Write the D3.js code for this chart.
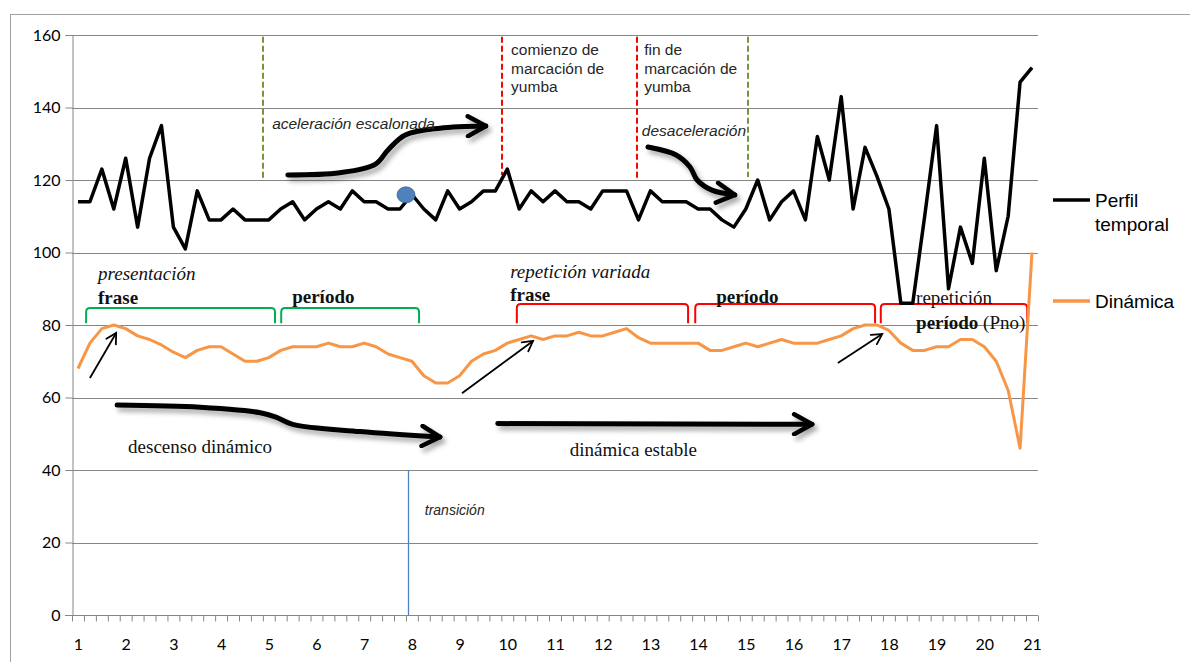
<!DOCTYPE html>
<html><head><meta charset="utf-8">
<script src="https://cdn.jsdelivr.net/npm/d3@7"></script>
<style>body{margin:0;background:#fff} svg{display:block}</style>
</head><body><svg id="c" width="1190" height="662"></svg>
<script>
// ---------- data ----------
const xTickLabels = d3.range(1, 22);                 // 1 .. 21
const yTicks = [0, 20, 40, 60, 80, 100, 120, 140, 160];
const seriesNames = ["Perfil temporal", "Dinámica"];
const perfil = [114,114,123,112,126,107,126,135,107,101,
                117,109,109,112,109,109,109,112,114,109,
                112,114,112,117,114,114,112,112,116,112,
                109,117,112,114,117,117,123,112,117,114,
                117,114,114,112,117,117,117,109,117,114,
                114,114,112,112,109,107,112,120,109,114,
                117,109,132,120,143,112,129,121,112,86,
                86,110,135,90,107,97,126,95,110,147,151];
const dinamica = [68,75,79,80,79,77,76,74.5,72.5,71,
                  73,74,74,72,70,70,71,73,74,74,
                  74,75,74,74,75,74,72,71,70,66,
                  64,64,66,70,72,73,75,76,77,76,
                  77,77,78,77,77,78,79,76.5,75,75,
                  75,75,75,73,73,74,75,74,75,76,
                  75,75,75,76,77,79,80,80,78.5,75,
                  73,73,74,74,76,76,74,70,62,46,100];
const xPos = perfil.map((d, i) => 1 + i / 4);        // 4 samples per labelled unit

// annotations, in data units (x: axis units, y: value units)
const vLines = [
  {x: 4.88,  y0: 120.5, y1: 159.5, color: "#77933C"},
  {x: 9.89,  y0: 121.4, y1: 159.5, color: "#FF0000"},
  {x: 12.72, y0: 120.2, y1: 159.5, color: "#FF0000"},
  {x: 15.05, y0: 120.8, y1: 159.5, color: "#77933C"}
];
const brackets = [
  {x1: 1.17,  x2: 5.13,  top: 84.7, bot: 80.5, color: "#00B050"},
  {x1: 5.26,  x2: 8.15,  top: 84.7, bot: 80.5, color: "#00B050"},
  {x1: 10.2,  x2: 13.79, top: 85.8, bot: 80.5, color: "#FF0000"},
  {x1: 13.94, x2: 17.71, top: 85.8, bot: 80.5, color: "#FF0000"},
  {x1: 17.83, x2: 20.9,  top: 85.8, bot: 80.5, color: "#FF0000"}
];
const sansNotes = [
  {x: 10.08, y: 154.5, lines: ["comienzo de", "marcación de", "yumba"], italic: false},
  {x: 12.87, y: 154.5, lines: ["fin de", "marcación de", "yumba"], italic: false},
  {x: 5.07,  y: 134.1, lines: ["aceleración escalonada"], italic: true},
  {x: 12.82, y: 132.1, lines: ["desaceleración"], italic: true},
  {x: 8.27,  y: 27.6,  lines: ["transición"], italic: true, small: true}
];
const serifNotes = [
  {x: 1.42,  y: 92.4, text: "presentación", style: "italic"},
  {x: 1.42,  y: 85.8, text: "frase", style: "bold"},
  {x: 5.49,  y: 86.1, text: "período", style: "bold"},
  {x: 10.06, y: 93.0, text: "repetición variada", style: "italic"},
  {x: 10.06, y: 86.6, text: "frase", style: "bold"},
  {x: 14.38, y: 86.1, text: "período", style: "bold"},
  {x: 18.57, y: 85.8, text: "repetición", style: "normal"},
  {x: 2.05,  y: 44.7, text: "descenso dinámico", style: "normal"},
  {x: 11.31, y: 43.9, text: "dinámica estable", style: "normal"}
];
const thinArrows = [
  [[1.25, 65.4], [1.80, 77.8]],
  [[9.05, 61.2], [10.54, 75.6]],
  [[16.93, 69.5], [17.86, 77.5]]
];
const thickArrows = [
  [[5.40,121.4],[6.49,122.0],[7.23,124.3],[7.50,128.3],[7.86,132.4],[8.59,134.3],[9.55,134.9]],
  [[12.95,129.1],[13.54,126.9],[13.83,123.6],[13.98,120.0],[14.29,117.2],[14.77,115.9]],
  [[1.82,57.9],[3.56,57.3],[4.82,55.8],[5.15,54.6],[5.50,52.6],[6.91,50.6],[8.59,49.1]],
  [[9.80,52.8],[16.39,52.6]]
];
const blueDot = {x: 7.876, y: 115.9};
const transLine = {x: 7.918, y0: 0, y1: 40};

// ---------- scales ----------
const svg = d3.select("#c");
const x = d3.scaleLinear().domain([1, 21]).range([78, 1032]);
const y = d3.scaleLinear().domain([0, 160]).range([615, 35]);
const xMin = 0.875, xMax = 21.125;
const gridColor = "#868686";
const axisFont = "Lato, 'Open Sans', sans-serif";

const defs = svg.append("defs");
const f = defs.append("filter").attr("id", "sh").attr("filterUnits", "userSpaceOnUse")
  .attr("x", 0).attr("y", 0).attr("width", 1190).attr("height", 662);
f.append("feDropShadow").attr("dx", 3).attr("dy", 4).attr("stdDeviation", 2.5)
  .attr("flood-color", "#000").attr("flood-opacity", 0.35);
defs.append("marker").attr("id", "headBig").attr("markerUnits", "userSpaceOnUse")
  .attr("viewBox", "0 0 24 24").attr("refX", 21).attr("refY", 12)
  .attr("markerWidth", 24).attr("markerHeight", 24).attr("orient", "auto")
  .append("path").attr("d", "M3,2 L21,12 L3,22").attr("fill", "none")
  .attr("stroke", "#000").attr("stroke-width", 4.5).attr("stroke-linecap", "round").attr("stroke-linejoin", "round");
defs.append("marker").attr("id", "headSmall").attr("markerUnits", "userSpaceOnUse")
  .attr("viewBox", "0 0 14 14").attr("refX", 12).attr("refY", 7)
  .attr("markerWidth", 14).attr("markerHeight", 14).attr("orient", "auto")
  .append("path").attr("d", "M2,1.5 L12,7 L2,12.5").attr("fill", "none")
  .attr("stroke", "#000").attr("stroke-width", 1.8).attr("stroke-linecap", "round");

// frame
svg.append("line").attr("x1", 10).attr("x2", 1190).attr("y1", 14.5).attr("y2", 14.5)
  .attr("stroke", "#a0a0a0").attr("stroke-width", 1);
svg.append("line").attr("x1", 10.5).attr("x2", 10.5).attr("y1", 14).attr("y2", 662)
  .attr("stroke", "#a0a0a0").attr("stroke-width", 1);

// gridlines
svg.append("g").selectAll("line").data(yTicks.filter(t => t > 0)).join("line")
  .attr("x1", x(xMin)).attr("x2", x(xMax))
  .attr("y1", d => Math.round(y(d)) + 0.5).attr("y2", d => Math.round(y(d)) + 0.5)
  .attr("stroke", gridColor).attr("stroke-width", 1);

// y axis
const yAxis = svg.append("g").attr("transform", `translate(${Math.round(x(xMin)) + 0.5},0)`)
  .call(d3.axisLeft(y).tickValues(yTicks).tickSize(7).tickPadding(5).tickFormat(d3.format("d")));
yAxis.select(".domain").attr("stroke", gridColor);
yAxis.selectAll(".tick line").attr("stroke", gridColor);
yAxis.selectAll("text").attr("font-family", axisFont).attr("font-size", 16).attr("fill", "#000");

// x axis: minor ticks between samples, labels every 4th sample
const minor = d3.range(0, 82).map(k => xMin + k * 0.25);
const xAxis = svg.append("g").attr("transform", `translate(0,${Math.round(y(0)) + 0.5})`)
  .call(d3.axisBottom(x).tickValues(minor).tickSize(6).tickFormat(""));
xAxis.select(".domain").attr("stroke", gridColor).attr("d", `M${x(xMin) - 7},0H${x(xMax)}`);
xAxis.selectAll(".tick line").attr("stroke", gridColor);
const xLab = svg.append("g").attr("transform", `translate(0,${Math.round(y(0))})`)
  .call(d3.axisBottom(x).tickValues(xTickLabels).tickSize(0).tickPadding(24).tickFormat(d3.format("d")));
xLab.select(".domain").remove();
xLab.selectAll("text").attr("font-family", axisFont).attr("font-size", 16).attr("fill", "#000");

// transition line
svg.append("line").attr("x1", Math.round(x(transLine.x)) + 0.5).attr("x2", Math.round(x(transLine.x)) + 0.5)
  .attr("y1", y(transLine.y0)).attr("y2", y(transLine.y1))
  .attr("stroke", "#4F81BD").attr("stroke-width", 1.3);

// dashed vertical markers
svg.append("g").selectAll("line").data(vLines).join("line")
  .attr("x1", d => Math.round(x(d.x))).attr("x2", d => Math.round(x(d.x)))
  .attr("y1", d => y(d.y1)).attr("y2", d => y(d.y0))
  .attr("stroke", d => d.color).attr("stroke-width", 2).attr("stroke-dasharray", "6,3");

// brackets
svg.append("g").selectAll("path").data(brackets).join("path")
  .attr("d", d => {
    const x1 = x(d.x1), x2 = x(d.x2), t = y(d.top), b = y(d.bot), r = 4;
    return `M${x1},${b}L${x1},${t + r}Q${x1},${t} ${x1 + r},${t}L${x2 - r},${t}Q${x2},${t} ${x2},${t + r}L${x2},${b}`;
  })
  .attr("fill", "none").attr("stroke", d => d.color).attr("stroke-width", 2);

// series lines
const line = d3.line().x((d, i) => x(xPos[i])).y(d => y(d));
svg.append("path").datum(dinamica).attr("d", line).attr("fill", "none")
  .attr("stroke", "#F79646").attr("stroke-width", 3).attr("stroke-linejoin", "round");
svg.append("path").datum(perfil).attr("d", line).attr("fill", "none")
  .attr("stroke", "#000").attr("stroke-width", 3.5).attr("stroke-linejoin", "round");

// blue dot
svg.append("ellipse").attr("cx", x(blueDot.x)).attr("cy", y(blueDot.y)).attr("rx", 9).attr("ry", 8)
  .attr("fill", "#4F81BD").attr("stroke", "#3A6496").attr("stroke-width", 0.8);

// thick arrows with shadow
const curve = d3.line().x(d => x(d[0])).y(d => y(d[1])).curve(d3.curveCatmullRom.alpha(0.5));
thickArrows.forEach(pts => {
  svg.append("g").attr("filter", "url(#sh)").append("path").attr("d", curve(pts))
    .attr("fill", "none").attr("stroke", "#000").attr("stroke-width", 5)
    .attr("stroke-linecap", "round").attr("marker-end", "url(#headBig)");
});
// thin arrows
const straight = d3.line().x(d => x(d[0])).y(d => y(d[1]));
thinArrows.forEach(pts => {
  svg.append("path").attr("d", straight(pts)).attr("fill", "none")
    .attr("stroke", "#000").attr("stroke-width", 1.8).attr("marker-end", "url(#headSmall)");
});

// sans notes
sansNotes.forEach(n => {
  const t = svg.append("text").attr("x", x(n.x)).attr("y", y(n.y))
    .attr("font-family", "'Liberation Sans', Arial, sans-serif")
    .attr("font-size", n.small ? 14 : 15.5).attr("fill", "#262626")
    .attr("font-style", n.italic ? "italic" : "normal");
  n.lines.forEach((l, i) => t.append("tspan").attr("x", x(n.x)).attr("dy", i ? "1.2em" : 0).text(l));
});

// serif notes
serifNotes.forEach(n => {
  svg.append("text").attr("x", x(n.x)).attr("y", y(n.y))
    .attr("font-family", "'Liberation Serif', 'Times New Roman', serif")
    .attr("font-size", 19).attr("fill", "#111")
    .attr("font-style", n.style === "italic" ? "italic" : "normal")
    .attr("font-weight", n.style === "bold" ? "bold" : "normal")
    .text(n.text);
});
const pno = svg.append("text").attr("x", x(18.57)).attr("y", y(78.9))
  .attr("font-family", "'Liberation Serif', 'Times New Roman', serif")
  .attr("font-size", 19).attr("fill", "#111");
pno.append("tspan").attr("font-weight", "bold").text("período");
pno.append("tspan").text(" (Pno)");

// legend
const leg = svg.append("g").attr("font-family", "'Liberation Sans', Arial, sans-serif").attr("font-size", 19);
leg.append("line").attr("x1", 1053).attr("x2", 1090).attr("y1", 200).attr("y2", 200)
  .attr("stroke", "#000").attr("stroke-width", 3.5);
leg.append("text").attr("x", 1095).attr("y", 207).text("Perfil");
leg.append("text").attr("x", 1095).attr("y", 231).text("temporal");
leg.append("line").attr("x1", 1053).attr("x2", 1090).attr("y1", 301).attr("y2", 301)
  .attr("stroke", "#F79646").attr("stroke-width", 3.5);
leg.append("text").attr("x", 1095).attr("y", 308).text(seriesNames[1]);
</script></body></html>
